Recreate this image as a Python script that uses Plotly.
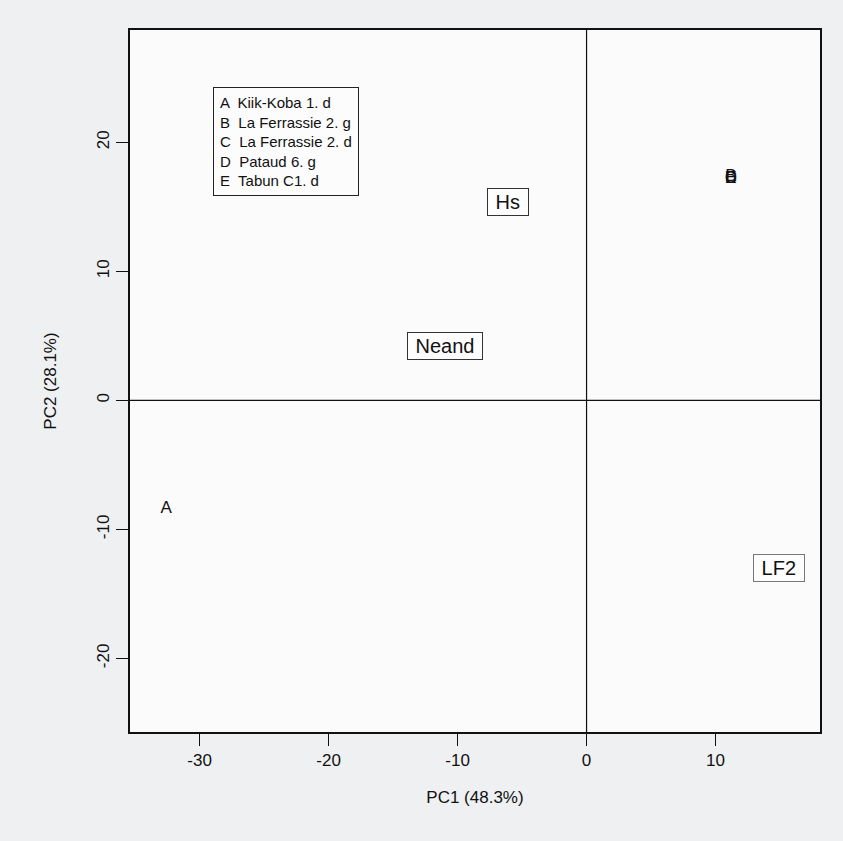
import plotly.graph_objects as go

# specimens (letters plotted at their PC scores)
letters = ["A", "B", "C", "D", "E"]
specimens = ["Kiik-Koba 1. d", "La Ferrassie 2. g", "La Ferrassie 2. d", "Pataud 6. g", "Tabun C1. d"]
pc1 = [-32.6, 11.2, 11.2, 11.2, 11.2]
pc2 = [-8.4, 17.3, 17.2, 17.2, 17.2]

# group labels
groups = ["Hs", "Neand", "LF2"]
group_pc1 = [-6.1, -11.0, 14.9]
group_pc2 = [15.4, 4.2, -13.0]

x_ticks = [-30, -20, -10, 0, 10]
y_ticks = [-20, -10, 0, 10, 20]

FONT = "Liberation Sans, Arial, sans-serif"

fig = go.Figure()

fig.add_trace(
    go.Scatter(
        x = pc1,
        y = pc2,
        mode = "text",
        text = letters,
        textposition = "middle center",
        textfont = dict(family = FONT, size = 17, color = "#111"),
        showlegend = False,
        hoverinfo = "skip"
    )
)

for g, gx, gy in zip(groups, group_pc1, group_pc2):
    fig.add_annotation(
        x = gx,
        y = gy,
        text = "&nbsp;" + g + "&nbsp;",
        showarrow = False,
        font = dict(family = FONT, size = 20, color = "#111"),
        bordercolor = "#333" if g != "LF2" else "#777",
        borderwidth = 1,
        borderpad = 2,
        bgcolor = "rgba(255,255,255,0.6)"
    )

# legend box
legend_text = "<br>".join(l + "  " + s for l, s in zip(letters, specimens))
fig.add_annotation(
    xref = "paper",
    yref = "paper",
    x = 0.12,
    y = 0.919,
    xanchor = "left",
    yanchor = "top",
    text = legend_text,
    align = "left",
    showarrow = False,
    font = dict(family = FONT, size = 15, color = "#111"),
    bordercolor = "#222",
    borderwidth = 1,
    borderpad = 6,
    bgcolor = "rgba(255,255,255,0.4)"
)

fig.add_vline(x = 0, line_color = "#111", line_width = 1.2)
fig.add_hline(y = 0, line_color = "#111", line_width = 1.2)

axis_common = dict(
    showgrid = False,
    zeroline = False,
    showline = True,
    mirror = True,
    linecolor = "#111",
    linewidth = 1.5,
    ticks = "outside",
    ticklen = 12,
    tickwidth = 1.2,
    tickcolor = "#111",
    tickfont = dict(family = FONT, size = 17, color = "#111"),
)

fig.update_xaxes(
    range = [-35.4, 18.1],
    tickvals = x_ticks,
    ticktext = [str(v) for v in x_ticks],
    title = dict(text = "PC1 (48.3%)", font = dict(family = FONT, size = 17, color = "#111"), standoff = 22),
    **axis_common
)
fig.update_yaxes(
    range = [-25.7, 28.7],
    tickvals = y_ticks,
    ticktext = [str(v) for v in y_ticks],
    tickangle = -90,
    title = dict(text = "PC2 (28.1%)", font = dict(family = FONT, size = 17, color = "#111"), standoff = 34),
    **axis_common
)

fig.update_layout(
    width = 843,
    height = 841,
    paper_bgcolor = "#eef0f2",
    plot_bgcolor = "#fbfbfb",
    margin = dict(l = 130, r = 23, t = 30, b = 109),
)

fig.write_html(
    "out.html",
    config = {"displayModeBar": False},
    post_script = "document.body.style.margin = '0';"
)
